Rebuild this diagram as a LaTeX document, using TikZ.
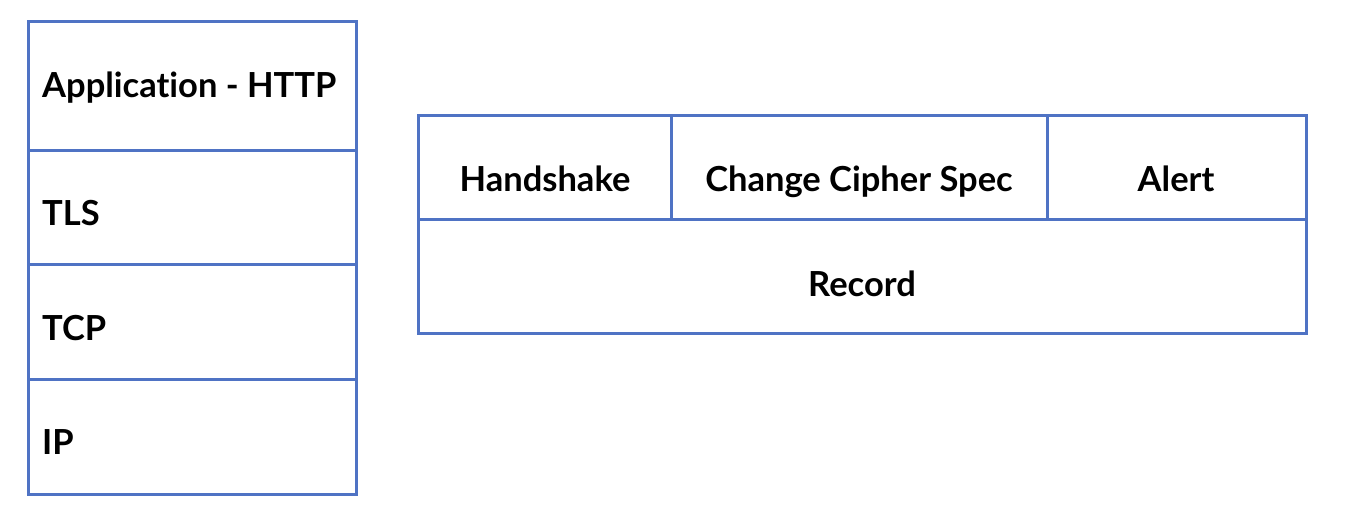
\documentclass[tikz,border=0pt]{standalone}
\usepackage{fontspec}
\setmainfont[Ligatures={NoCommon,NoRare,NoDiscretionary}]{Lato}
\definecolor{boxblue}{RGB}{79,115,196}
\begin{document}
\begin{tikzpicture}[x=1pt,y=-1pt,
  cell/.style={draw=boxblue,line width=3pt},
  lbl/.style={font=\fontsize{34.5}{40}\selectfont\bfseries,text=black,inner sep=0pt}]
\useasboundingbox (0,0) rectangle (1356,518);
% left stack
\draw[cell] (28,22) rectangle (356,494);
\draw[cell] (28,151) -- (356,151);
\draw[cell] (28,265) -- (356,265);
\draw[cell] (28,379) -- (356,379);
\node[lbl,anchor=base west] (app) at (42,98) {Application - HTTP};
\node[lbl,anchor=base west] (tls) at (42,226) {TLS};
\node[lbl,anchor=base west] (tcp) at (42,340) {TCP};
\node[lbl,anchor=base west] (ip) at (42,454) {IP};
% right stack
\draw[cell] (418,116) rectangle (1306,333);
\draw[cell] (418,220) -- (1306,220);
\draw[cell] (671,116) -- (671,220);
\draw[cell] (1047,116) -- (1047,220);
\node[lbl,anchor=base] (hs) at (545,192) {Handshake};
\node[lbl,anchor=base] (ccs) at (859,192) {Change Cipher Spec};
\node[lbl,anchor=base] (alert) at (1176,192) {Alert};
\node[lbl,anchor=base] (rec) at (862,297) {Record};
\end{tikzpicture}
\end{document}
